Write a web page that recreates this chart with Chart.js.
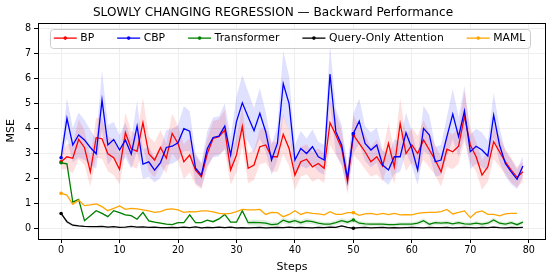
<!DOCTYPE html>
<html>
<head>
<meta charset="utf-8">
<script src="https://cdn.jsdelivr.net/npm/chart.js@4.4.1/dist/chart.umd.min.js"></script>
<style>
  body { margin: 0; background: #fff; }
</style>
</head>
<body>
<canvas id="myChart" width="554" height="280"></canvas>
<script>
// steps 0..79
const steps = Array.from({ length: 80 }, (_, i) => i);

const bp = [
    2.68, 2.88, 2.82, 3.57, 3.25, 2.28, 3.64, 3.60, 3.00, 2.84,
    2.38, 3.84, 3.20, 3.10, 4.24, 3.00, 2.75, 3.25, 2.82, 3.81,
    3.41, 2.68, 2.95, 2.35, 2.08, 3.00, 3.61, 3.68, 3.94, 2.35,
    2.95, 4.08, 2.42, 2.55, 3.28, 3.35, 2.88, 2.88, 3.78, 3.21,
    2.15, 2.68, 2.78, 2.48, 2.61, 2.42, 4.24, 3.75, 3.21, 1.89,
    3.75, 3.41, 3.08, 2.68, 2.88, 2.51, 3.41, 2.48, 4.21, 3.01,
    3.35, 3.01, 3.55, 3.15, 2.75, 2.28, 3.18, 3.08, 3.30, 4.50,
    3.35, 2.88, 2.15, 2.48, 3.48, 3.08, 2.68, 2.35, 2.06, 2.28
];
const bpStd = [
    0.3, 0.5, 0.6, 0.8, 0.7, 0.6, 0.8, 0.8, 0.7, 0.7,
    0.6, 0.8, 0.7, 0.7, 1.0, 0.7, 0.7, 0.7, 0.6, 0.8,
    0.7, 0.7, 0.7, 0.6, 0.5, 0.6, 0.7, 0.7, 0.8, 0.6,
    0.7, 0.8, 0.6, 0.6, 0.7, 0.7, 0.6, 0.6, 0.8, 0.7,
    0.6, 0.6, 0.6, 0.6, 0.6, 0.6, 0.9, 0.8, 0.7, 0.5,
    0.8, 0.7, 0.7, 0.6, 0.7, 0.6, 0.8, 0.7, 1.0, 0.7,
    0.7, 0.7, 0.8, 0.7, 0.6, 0.6, 0.7, 0.7, 0.7, 1.0,
    0.7, 0.6, 0.6, 0.6, 0.7, 0.6, 0.5, 0.5, 0.4, 0.4
];

const cbp = [
    2.84, 4.41, 3.35, 3.75, 3.55, 3.25, 3.00, 5.14, 3.35, 3.57,
    3.15, 3.55, 2.99, 4.10, 2.59, 2.68, 2.35, 2.64, 3.25, 3.30,
    3.44, 4.00, 3.90, 2.42, 2.15, 3.20, 3.65, 3.70, 4.10, 2.95,
    4.28, 5.03, 4.47, 3.92, 4.61, 3.88, 2.75, 3.41, 5.80, 5.00,
    2.75, 3.21, 3.01, 3.28, 2.88, 2.75, 6.18, 3.88, 3.35, 2.02,
    3.81, 4.30, 3.41, 3.15, 3.35, 2.55, 2.35, 2.88, 2.88, 3.84,
    3.21, 2.35, 4.01, 3.75, 2.68, 2.75, 3.68, 4.58, 3.68, 4.71,
    3.08, 3.30, 3.15, 2.91, 4.54, 3.35, 2.61, 2.28, 1.98, 2.51
];
const cbpStd = [
    0.3, 0.8, 0.7, 0.9, 0.8, 0.7, 0.6, 1.2, 0.8, 0.7,
    0.6, 0.7, 0.6, 1.0, 0.6, 0.6, 0.5, 0.6, 0.7, 0.7,
    0.7, 0.9, 0.8, 0.6, 0.5, 0.7, 0.8, 0.8, 0.9, 0.7,
    1.0, 1.1, 1.0, 0.9, 1.0, 0.8, 0.6, 0.7, 1.3, 1.1,
    0.6, 0.7, 0.6, 0.7, 0.6, 0.6, 1.2, 0.9, 0.8, 0.5,
    0.8, 0.9, 0.7, 0.7, 0.7, 0.6, 0.6, 0.7, 0.6, 0.8,
    0.7, 0.6, 0.9, 0.8, 0.6, 0.6, 0.8, 1.0, 0.8, 1.0,
    0.7, 0.7, 0.7, 0.6, 0.9, 0.7, 0.5, 0.5, 0.4, 0.4
];

const transformer = [
    2.64, 2.60, 1.07, 1.18, 0.33, 0.53, 0.73, 0.62, 0.49, 0.73,
    0.65, 0.56, 0.53, 0.39, 0.66, 0.32, 0.27, 0.23, 0.19, 0.17,
    0.25, 0.25, 0.56, 0.25, 0.25, 0.35, 0.29, 0.40, 0.58, 0.27,
    0.27, 0.73, 0.25, 0.26, 0.25, 0.23, 0.17, 0.19, 0.35, 0.27,
    0.33, 0.25, 0.32, 0.29, 0.23, 0.19, 0.19, 0.25, 0.33, 0.27,
    0.36, 0.23, 0.20, 0.19, 0.19, 0.19, 0.17, 0.17, 0.19, 0.19,
    0.19, 0.23, 0.33, 0.19, 0.25, 0.23, 0.25, 0.20, 0.25, 0.20,
    0.19, 0.23, 0.19, 0.23, 0.36, 0.23, 0.19, 0.25, 0.17, 0.27
];
const transformerStd = [
    0.05, 0.05, 0.05, 0.05, 0.03, 0.03, 0.03, 0.03, 0.03, 0.03,
    0.03, 0.03, 0.03, 0.03, 0.03, 0.03, 0.03, 0.03, 0.03, 0.03,
    0.03, 0.03, 0.03, 0.03, 0.03, 0.03, 0.03, 0.03, 0.03, 0.03,
    0.04, 0.06, 0.11, 0.12, 0.12, 0.11, 0.10, 0.10, 0.11, 0.10,
    0.10, 0.10, 0.11, 0.10, 0.09, 0.09, 0.09, 0.10, 0.11, 0.10,
    0.10, 0.09, 0.09, 0.08, 0.08, 0.08, 0.08, 0.08, 0.08, 0.08,
    0.08, 0.09, 0.10, 0.08, 0.09, 0.09, 0.09, 0.08, 0.09, 0.08,
    0.08, 0.09, 0.08, 0.09, 0.10, 0.09, 0.08, 0.09, 0.08, 0.09
];

const queryOnly = [
    0.62, 0.29, 0.15, 0.12, 0.10, 0.09, 0.09, 0.10, 0.07, 0.09,
    0.06, 0.07, 0.10, 0.07, 0.08, 0.06, 0.07, 0.05, 0.05, 0.06,
    0.05, 0.07, 0.05, 0.08, 0.04, 0.06, 0.05, 0.07, 0.05, 0.07,
    0.04, 0.05, 0.04, 0.05, 0.06, 0.04, 0.05, 0.06, 0.05, 0.07,
    0.05, 0.06, 0.05, 0.04, 0.06, 0.05, 0.07, 0.06, 0.12, 0.06,
    0.03, 0.05, 0.06, 0.04, 0.05, 0.06, 0.04, 0.05, 0.04, 0.05,
    0.06, 0.05, 0.04, 0.06, 0.05, 0.05, 0.06, 0.04, 0.05, 0.06,
    0.05, 0.04, 0.06, 0.05, 0.07, 0.05, 0.04, 0.06, 0.05, 0.06
];
const queryOnlyStd = [
    0.04, 0.07, 0.05, 0.03, 0.02, 0.02, 0.02, 0.02, 0.02, 0.02,
    0.02, 0.02, 0.02, 0.02, 0.02, 0.02, 0.02, 0.02, 0.02, 0.02,
    0.02, 0.02, 0.02, 0.02, 0.02, 0.02, 0.02, 0.02, 0.02, 0.02,
    0.02, 0.02, 0.02, 0.02, 0.02, 0.02, 0.02, 0.02, 0.02, 0.02,
    0.02, 0.02, 0.02, 0.02, 0.02, 0.02, 0.02, 0.02, 0.03, 0.02,
    0.02, 0.02, 0.02, 0.02, 0.02, 0.02, 0.02, 0.02, 0.02, 0.02,
    0.02, 0.02, 0.02, 0.02, 0.02, 0.02, 0.02, 0.02, 0.02, 0.02,
    0.02, 0.02, 0.02, 0.02, 0.02, 0.02, 0.02, 0.02, 0.02, 0.02
];

// MAML stops at step 78
const maml = [
    1.42, 1.35, 0.98, 1.15, 0.93, 0.96, 1.00, 0.89, 0.73, 0.82,
    0.92, 0.78, 0.82, 0.80, 0.76, 0.72, 0.66, 0.69, 0.78, 0.80,
    0.76, 0.66, 0.69, 0.68, 0.72, 0.72, 0.68, 0.62, 0.60, 0.62,
    0.69, 0.78, 0.76, 0.76, 0.78, 0.58, 0.66, 0.65, 0.49, 0.58,
    0.73, 0.58, 0.66, 0.62, 0.60, 0.56, 0.69, 0.58, 0.58, 0.65,
    0.65, 0.54, 0.60, 0.62, 0.57, 0.62, 0.57, 0.62, 0.56, 0.57,
    0.56, 0.62, 0.65, 0.66, 0.66, 0.69, 0.78, 0.60, 0.66, 0.72,
    0.45, 0.66, 0.72, 0.58, 0.58, 0.52, 0.60, 0.62, 0.62
];

const xTicks = [0, 10, 20, 30, 40, 50, 60, 70, 80];
const yTicks = [0, 1, 2, 3, 4, 5, 6, 7, 8];

Chart.defaults.font.family = '"DejaVu Sans", sans-serif';
Chart.defaults.color = '#000';

function pts(values) {
    return values.map((v, i) => ({ x: steps[i], y: v }));
}

function band(values, std, color) {
    return [
        { band: true, data: values.map((v, i) => ({ x: steps[i], y: v - std[i] })),
          borderColor: 'rgba(0,0,0,0)', borderWidth: 0, pointRadius: 0, fill: false, order: 10 },
        { band: true, data: values.map((v, i) => ({ x: steps[i], y: v + std[i] })),
          borderColor: 'rgba(0,0,0,0)', borderWidth: 0, pointRadius: 0, fill: '-1',
          backgroundColor: color, order: 10 }
    ];
}

function line(label, values, color, order) {
    return {
        label: label,
        data: pts(values),
        borderColor: color,
        backgroundColor: color,
        borderWidth: 1.3,
        pointRadius: (c) => (c.dataIndex % 50 === 0 ? 1.8 : 0),
        pointBorderWidth: 0,
        pointBackgroundColor: color,
        fill: false,
        tension: 0,
        order: order
    };
}

const datasets = [].concat(
    band(bp, bpStd, 'rgba(255,0,0,0.12)'),
    band(cbp, cbpStd, 'rgba(0,0,255,0.12)'),
    band(transformer, transformerStd, 'rgba(0,128,0,0.12)'),
    band(queryOnly, queryOnlyStd, 'rgba(0,0,0,0.12)'),
    [
        line('BP', bp, '#ff0000', 4),
        line('CBP', cbp, '#0000ff', 3),
        line('Transformer', transformer, '#008000', 2),
        line('Query-Only Attention', queryOnly, '#000000', 1),
        line('MAML', maml, '#ffa500', 0)
    ]
);

// frame + matplotlib style legend inside the axes
const frameAndLegend = {
    id: 'frameAndLegend',
    afterDatasetsDraw(chart) {
        const ctx = chart.ctx;
        const a = chart.chartArea;
        ctx.save();
        ctx.strokeStyle = '#000';
        ctx.lineWidth = 1;
        ctx.strokeRect(Math.round(a.left) + 0.5, Math.round(a.top) + 0.5,
            Math.round(a.right - a.left) - 1, Math.round(a.bottom - a.top));

        const items = chart.data.datasets.filter(d => !d.band);
        ctx.font = '10.8px "DejaVu Sans", sans-serif';
        const lineLen = 23, gap = 3.5, spacing = 23;
        const widths = items.map(d => lineLen + gap + ctx.measureText(d.label).width);
        const total = widths.reduce((s, w) => s + w, 0) + spacing * (items.length - 1);
        let x = (a.left + a.right) / 2 - 2.5 - total / 2;
        const cy = a.top + 15.5;

        ctx.beginPath();
        ctx.roundRect(Math.round(x - 3.5) + 0.5, Math.round(cy - 9.5) + 0.5, Math.round(total + 8), 19, 3);
        ctx.fillStyle = 'rgba(255,255,255,0.8)';
        ctx.fill();
        ctx.strokeStyle = '#cccccc';
        ctx.stroke();

        items.forEach((d, i) => {
            ctx.strokeStyle = d.borderColor;
            ctx.lineWidth = 1.3;
            ctx.beginPath();
            ctx.moveTo(x, cy);
            ctx.lineTo(x + lineLen, cy);
            ctx.stroke();
            ctx.fillStyle = d.borderColor;
            ctx.beginPath();
            ctx.arc(x + lineLen / 2, cy, 1.8, 0, Math.PI * 2);
            ctx.fill();
            ctx.fillStyle = '#000';
            ctx.textBaseline = 'middle';
            ctx.textAlign = 'left';
            ctx.fillText(d.label, x + lineLen + gap, cy);
            x += widths[i] + spacing;
        });
        ctx.restore();
    }
};

const config = {
    type: 'line',
    data: { datasets: datasets },
    options: {
        responsive: false,
        animation: false,
        devicePixelRatio: 1,
        layout: { padding: { left: 0, right: 8, top: 0, bottom: 0 } },
        plugins: {
            title: {
                display: true,
                text: 'SLOWLY CHANGING REGRESSION — Backward Performance',
                font: { size: 12.1, weight: 'normal' },
                color: '#000',
                padding: { top: 6, bottom: 2.1 }
            },
            legend: { display: false },
            tooltip: { enabled: false }
        },
        scales: {
            x: {
                type: 'linear',
                min: -3.95,
                max: 82.95,
                afterBuildTicks: (s) => { s.ticks = xTicks.map(v => ({ value: v })); },
                afterFit: (s) => { s.height = 41; },
                ticks: { font: { size: 9.6 }, color: '#000', padding: 2, maxRotation: 0 },
                grid: { color: '#eeeeee', tickColor: '#000', tickLength: 4 },
                border: { display: false },
                title: { display: true, text: 'Steps', font: { size: 11 }, color: '#000',
                         padding: { top: 0, bottom: 6 } }
            },
            y: {
                min: -0.4,
                max: 8.23,
                afterBuildTicks: (s) => { s.ticks = yTicks.map(v => ({ value: v })); },
                afterFit: (s) => { s.width = 38; },
                ticks: { font: { size: 9.6 }, color: '#000', padding: 3 },
                grid: { color: '#eeeeee', tickColor: '#000', tickLength: 4 },
                border: { display: false },
                title: { display: true, text: 'MSE', font: { size: 11 }, color: '#000',
                         padding: { top: 5, bottom: 0 } }
            }
        }
    },
    plugins: [frameAndLegend]
};

const myChart = new Chart(document.getElementById('myChart'), config);
</script>
</body>
</html>
